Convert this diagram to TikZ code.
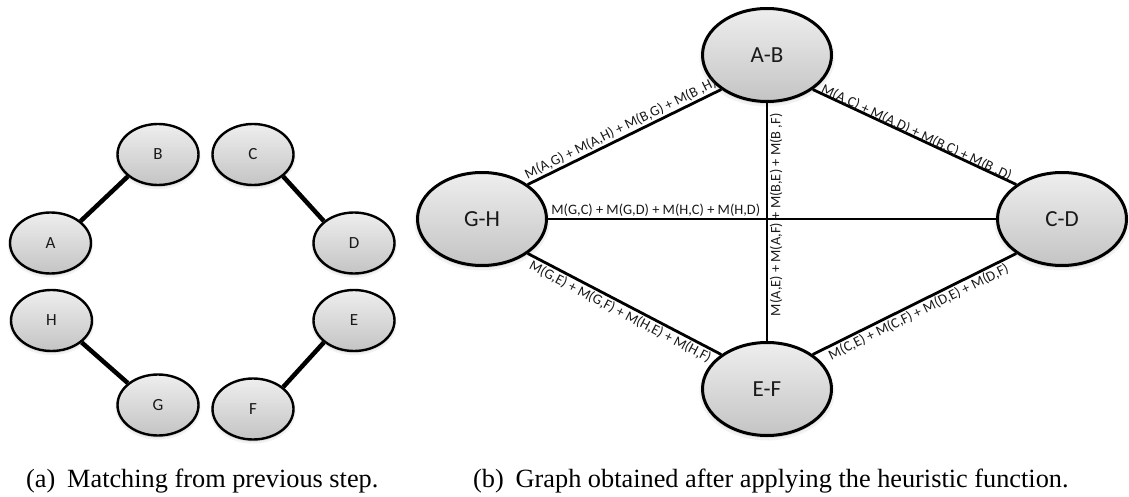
\documentclass[tikz,border=0pt]{standalone}
\usepackage{fontspec}
\setmainfont{Liberation Serif}
\newfontfamily\calib{Carlito}
\usetikzlibrary{shapes.geometric,shadows}

\definecolor{nodetop}{RGB}{238,238,238}
\definecolor{nodebot}{RGB}{196,196,196}
\definecolor{inkgray}{RGB}{25,25,25}

\begin{document}
\begin{tikzpicture}[x=1pt,y=-1pt,
  softshadow/.style={
    general shadow={fill=black,opacity=0.05,shadow scale=1.05,shadow yshift=-2.5pt},
    general shadow={fill=black,opacity=0.08,shadow scale=1.02,shadow yshift=-1.5pt}},
  vertex/.style={ellipse, draw=black, top color=nodetop, bottom color=nodebot,
    inner sep=0pt, text=inkgray, softshadow},
  small/.style={vertex, line width=2.4pt, minimum width=81pt, minimum height=61pt,
    font=\calib\fontsize{17}{17}\selectfont},
  big/.style={vertex, line width=3pt, minimum width=129pt, minimum height=93pt,
    font=\calib\fontsize{23}{23}\selectfont},
  match/.style={line width=4.5pt},
  link/.style={line width=2.8pt},
  wlabel/.style={font=\calib\fontsize{14.4}{14.4}\selectfont, text=inkgray, inner sep=1.5pt},
  lbl/.style={wlabel, sloped},
  captiontext/.style={font=\fontsize{26.3}{26.3}\selectfont, anchor=base west, inner sep=0pt}]

\useasboundingbox (0,0) rectangle (1129,497);

% (a) matching from the previous step
\node[small] (A) at (50.5,243) {A};
\node[small] (B) at (158,154.5) {B};
\node[small] (C) at (253,154.5) {C};
\node[small] (D) at (354,243) {D};
\node[small] (H) at (51.5,320.5) {H};
\node[small] (E) at (354,320.5) {E};
\node[small] (G) at (158,405) {G};
\node[small] (F) at (253,409) {F};

\draw[match] (A.36) -- (B.216);
\draw[match] (C.-36) -- (D.144);
\draw[match] (H.-36) -- (G.144);
\draw[match] (E.216) -- (F.36);

% (b) graph after the heuristic function
\node[big] (AB) at (767,55) {A-B};
\node[big] (GH) at (482,219) {G-H};
\node[big] (CD) at (1062,219) {C-D};
\node[big] (EF) at (767,389) {E-F};

\draw[link] (GH.37) -- node[lbl, midway, above=0pt] {M(A,G) + M(A,H) + M(B,G) + M(B ,H)} (AB.217);
\draw[link] (AB.-37) -- node[lbl, midway, above=-4.5pt] {M(A,C) + M(A,D) + M(B,C) + M(B ,D)} (CD.143);
\draw[link] (GH.east) -- node[wlabel, pos=0, anchor=south west, xshift=0.5pt] {M(G,C) + M(G,D) + M(H,C) + M(H,D)} (CD.west);
\draw[link] (EF.north) -- node[wlabel, pos=0.53, rotate=90, anchor=north] {M(A,E) + M(A,F) + M(B,E) + M(B ,F)} (AB.south);
\draw[link] (GH.-37) -- node[lbl, midway, below] {M(G,E) + M(G,F) + M(H,E) + M(H,F)} (EF.143);
\draw[link] (EF.37) -- node[lbl, midway, below] {M(C,E) + M(C,F) + M(D,E) + M(D,F)} (CD.217);

% captions
\node[captiontext] (capa) at (26,487) {(a)\hspace{0.45em}Matching from previous step.};
\node[captiontext] (capb) at (473,487) {(b)\hspace{0.45em}Graph obtained after applying the heuristic function.};

\end{tikzpicture}
\end{document}
